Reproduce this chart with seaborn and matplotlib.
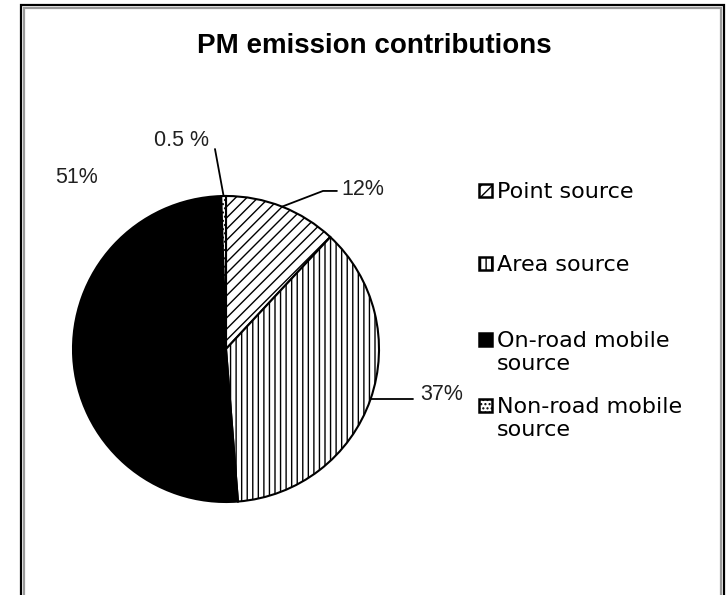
import numpy as np
import matplotlib
matplotlib.use("Agg")
import matplotlib.pyplot as plt
from matplotlib.patches import Rectangle
import seaborn as sns

# Data
sources = ["Point source", "Area source", "On-road mobile\nsource", "Non-road mobile\nsource"]
shares = [12, 37, 51, 0.5]
share_labels = ["12%", "37%", "51%", "0.5 %"]
fills = ["white", "white", "black", "white"]
hatches = ["///", "|||", "", "...."]

sns.set_theme(style="white")
plt.rcParams["font.family"] = ["Liberation Sans", "DejaVu Sans"]
plt.rcParams["hatch.linewidth"] = 1.0

W, H = 728, 595
fig = plt.figure(figsize=(W / 100, H / 100), dpi=100)
fig.patch.set_facecolor("white")

# helper: pixel (from top-left) -> figure coords
def fx(px):
    return px / W

def fy(py):
    return 1 - py / H

# chart frame (double border, runs off the bottom)
fig.add_artist(Rectangle((fx(21), fy(610)), fx(724) - fx(21), fy(5) - fy(610),
                         transform=fig.transFigure, fill=False, ec="black", lw=1.6))
fig.add_artist(Rectangle((fx(24), fy(610)), fx(721) - fx(24), fy(8) - fy(610),
                         transform=fig.transFigure, fill=False, ec="#9a9a9a", lw=1.6))

fig.text(fx(374), fy(53), "PM emission contributions", ha="center", va="baseline",
         fontsize=20, fontweight="bold", color="black")

# pie axes: centre (226, 349), radius 153 px
cx, cy, r = 226, 349, 153
ax = fig.add_axes([fx(cx - r), fy(cy + r), 2 * r / W, 2 * r / H])
wedges, _ = ax.pie(shares, colors=fills, hatch=hatches, startangle=90,
                   counterclock=False,
                   wedgeprops=dict(edgecolor="black", linewidth=1.5))
ax.set_xlim(-1, 1)
ax.set_ylim(-1, 1)
ax.axis("off")

def rim(w):
    a = np.deg2rad((w.theta1 + w.theta2) / 2)
    return np.cos(a), np.sin(a)

lab_kw = dict(fontsize=15.5, color="#202020")

# 12% - elbow leader
x0, y0 = rim(wedges[0])
ax.plot([x0, 0.634, 0.725], [y0, 1.033, 1.033], color="black", lw=1.3, clip_on=False)
ax.text(0.755, 1.04, share_labels[0], ha="left", va="center", **lab_kw)

# 37% - straight leader
x1, y1 = rim(wedges[1])
ax.plot([x1, 1.222], [y1, y1], color="black", lw=1.3, clip_on=False)
ax.text(1.27, y1 + 0.03, share_labels[1], ha="left", va="center", **lab_kw)

# 51% - no leader
ax.text(-0.974, 1.118, share_labels[2], ha="center", va="center", **lab_kw)

# 0.5 % - leader up to the left
x3, y3 = rim(wedges[3])
ax.plot([x3, -0.072], [y3, 1.307], color="black", lw=1.3, clip_on=False)
ax.text(-0.11, 1.36, share_labels[3], ha="right", va="center", **lab_kw)

# legend, drawn by hand so the key sits on the first line of the label
baselines = [198, 271, 347, 413]
for name, fc, hat, base in zip(sources, fills, hatches, baselines):
    fig.add_artist(Rectangle((fx(479), fy(base - 1)), 13 / W, 13 / H,
                             transform=fig.transFigure, fc=fc, ec="black",
                             lw=1.8, hatch=hat))
    for i, line in enumerate(name.split("\n")):
        fig.text(fx(497), fy(base + 23 * i), line, ha="left", va="baseline",
                 fontsize=16, family=["DejaVu Sans"], color="black")

fig.savefig("out.png", dpi=100, facecolor="white")
